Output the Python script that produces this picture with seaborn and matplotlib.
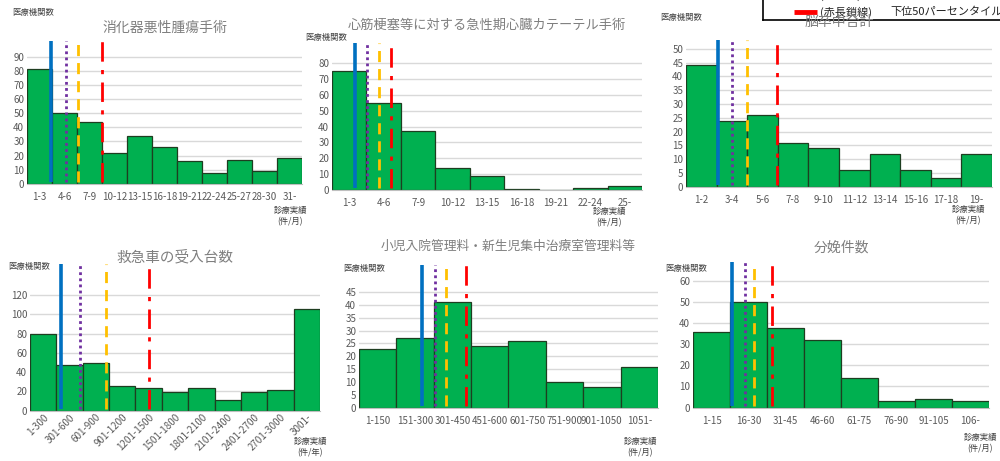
import numpy as np
import pandas as pd
import matplotlib
matplotlib.use("Agg")
import matplotlib.pyplot as plt
import seaborn as sns

sns.set_style("white")
plt.rcParams['font.family'] = ['Noto Sans CJK JP', 'DejaVu Sans']

# ---- data ----
titles = ["消化器悪性腫瘍手術",
          "心筋梗塞等に対する急性期心臓カテーテル手術",
          "脳卒中合計",
          "救急車の受入台数",
          "小児入院管理料・新生児集中治療室管理料等",
          "分娩件数"]

bins1 = ["1-3", "4-6", "7-9", "10-12", "13-15", "16-18", "19-21", "22-24", "25-27", "28-30", "31-"]
vals1 = [81, 50, 44, 22, 34, 26, 16, 8, 17, 9, 18]

bins2 = ["1-3", "4-6", "7-9", "10-12", "13-15", "16-18", "19-21", "22-24", "25-"]
vals2 = [75, 55, 37, 14, 9, 0.5, 0, 1.5, 2.5]

bins3 = ["1-2", "3-4", "5-6", "7-8", "9-10", "11-12", "13-14", "15-16", "17-18", "19-"]
vals3 = [44, 24, 26, 16, 14, 6, 12, 6, 3, 12]

bins4 = ["1-300", "301-600", "601-900", "901-1200", "1201-1500", "1501-1800",
         "1801-2100", "2101-2400", "2401-2700", "2701-3000", "3001-"]
vals4 = [80, 47, 49, 26, 24, 19, 24, 11, 19, 21, 105]

bins5 = ["1-150", "151-300", "301-450", "451-600", "601-750", "751-900", "901-1050", "1051-"]
vals5 = [23, 27, 41, 24, 26, 10, 8, 16]

bins6 = ["1-15", "16-30", "31-45", "46-60", "61-75", "76-90", "91-105", "106-"]
vals6 = [36, 50, 38, 32, 14, 3, 4, 3]

# percentile lines, in bin units from the left edge of the first bin
# order: blue, purple, orange, red(50th)
pct1 = [0.96, 1.54, 2.04, 3.0]
pct2 = [0.67, 1.03, 1.36, 1.70]
pct3 = [1.03, 1.50, 1.98, 2.96]
pct4 = [1.17, 1.89, 2.87, 4.52]
pct5 = [1.68, 2.04, 2.32, 2.86]
pct6 = [1.06, 1.40, 1.64, 2.13]

ymax = [101, 93, 53.2, 152, 55.6, 69]
ystep = [10, 10, 5, 20, 5, 10]
ytop = [90, 80, 50, 120, 45, 60]
units = ["(件/月)", "(件/月)", "(件/月)", "(件/年)", "(件/月)", "(件/月)"]

panels = [(bins1, vals1, pct1), (bins2, vals2, pct2), (bins3, vals3, pct3),
          (bins4, vals4, pct4), (bins5, vals5, pct5), (bins6, vals6, pct6)]

# axes boxes (left, bottom, width, height) in figure fraction
boxes = [(0.027, 0.601, 0.275, 0.310),
         (0.332, 0.588, 0.310, 0.319),
         (0.686, 0.595, 0.306, 0.318),
         (0.030, 0.109, 0.290, 0.318),
         (0.359, 0.116, 0.299, 0.309),
         (0.693, 0.116, 0.296, 0.315)]

title_y = [0.939, 0.946, 0.952, 0.443, 0.465, 0.462]
title_fs = [10, 9.5, 10, 10.5, 9.2, 10]
ylab_xy = [(0.012, 0.972), (0.305, 0.918), (0.660, 0.961),
           (0.008, 0.422), (0.343, 0.418), (0.665, 0.417)]
xlab_xy = [(0.290, 0.532), (0.609, 0.529), (0.968, 0.534),
           (0.310, 0.030), (0.640, 0.030), (0.980, 0.039)]

GREEN = "#00B050"
line_styles = [("#0070C0", "-", 2.6), ("#7030A0", (0, (1, 1.2)), 2.0),
               ("#FFC000", (0, (4, 2.5)), 2.0), ("#FF0000", (0, (7, 3, 1.5, 3)), 2.0)]

fig = plt.figure(figsize=(10, 4.61), dpi=100)

for i, (cats, vals, pct) in enumerate(panels):
    ax = fig.add_axes(boxes[i])
    df = pd.DataFrame({"bin": cats, "count": vals})
    sns.barplot(data=df, x="bin", y="count", color=GREEN, width=1.0,
                edgecolor="#1e3d20", linewidth=0.9, saturation=1, ax=ax)
    n = len(cats)
    ax.set_xlim(-0.5, n - 0.5)
    ax.set_ylim(0, ymax[i])
    ax.set_yticks(np.arange(0, ytop[i] + 1, ystep[i]))
    ax.yaxis.grid(True, color="#D9D9D9", linewidth=1)
    ax.set_axisbelow(True)
    for s in ["top", "right", "left"]:
        ax.spines[s].set_visible(False)
    ax.spines["bottom"].set_color("#BFBFBF")
    ax.tick_params(axis="both", length=0, labelsize=7, labelcolor="#595959", pad=2)
    if i == 3:
        ax.tick_params(axis="x", labelrotation=45, pad=1)
        for lab in ax.get_xticklabels():
            lab.set_ha("right")
            lab.set_rotation_mode("anchor")
    else:
        ax.tick_params(axis="x", pad=6)
    ax.set_xlabel("")
    ax.set_ylabel("")
    for p, (c, ls, lw) in zip(pct, line_styles):
        ax.vlines(p - 0.5, ymax[i] * 0.012, ymax[i], colors=c, linestyles=ls, linewidth=lw)

    cx = boxes[i][0] + boxes[i][2] / 2
    fig.text(cx, title_y[i], titles[i], ha="center", va="center", fontsize=title_fs[i], color="#7F7F7F")
    fig.text(ylab_xy[i][0], ylab_xy[i][1], "医療機関数", ha="left", va="center",
             fontsize=6, color="#404040")
    fig.text(xlab_xy[i][0], xlab_xy[i][1], "診療実績\n" + units[i], ha="center", va="center",
             fontsize=6, color="#404040", linespacing=1.3)

# legend box (partly cut off at the top of the picture)
leg = fig.add_axes([0.763, 0.956, 0.30, 0.12])
leg.set_xlim(0, 1)
leg.set_ylim(0, 1)
leg.set_xticks([])
leg.set_yticks([])
for s in leg.spines.values():
    s.set_color("black")
    s.set_linewidth(1.2)
leg.plot([0.103, 0.18], [0.145, 0.145], color="#FF0000", linewidth=3.5, solid_capstyle="butt")
leg.text(0.19, 0.145, "(赤長鎖線)", ha="left", va="center", fontsize=8, color="#222222")
leg.text(0.423, 0.145, "下位50パーセンタイル", ha="left", va="center", fontsize=8, color="#222222")
leg.plot([0.103, 0.18], [0.45, 0.45], color="#FFC000", linewidth=3.5, solid_capstyle="butt")
leg.text(0.19, 0.45, "(橙破線)", ha="left", va="center", fontsize=8, color="#222222")
leg.text(0.423, 0.45, "下位40パーセンタイル", ha="left", va="center", fontsize=8, color="#222222")

fig.savefig("out.png", dpi=100)
